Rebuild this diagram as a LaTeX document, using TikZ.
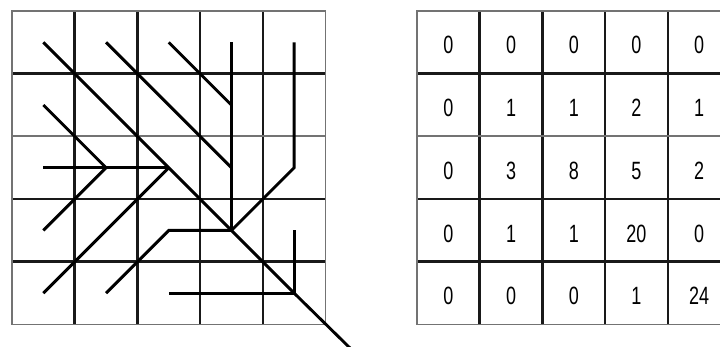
\documentclass[tikz,border=0pt]{standalone}
\usepackage{fontspec}
\newfontfamily\digitfont[FakeStretch=0.72]{Liberation Sans}
\tikzset{
  gline/.style={line width=2.6pt, black!90},
  gborder/.style={line width=1.8pt, black!55},
  flowline/.style={line width=2.9pt, black},
  kval/.style={font=\digitfont\fontsize{25}{25}\selectfont, inner sep=0pt},
}

\begin{document}
\begin{tikzpicture}[x=1pt, y=-1pt]
  \useasboundingbox (0,0) rectangle (720,347);
  % left grid: flow directions
  \foreach \k in {1,3,4} {
    \draw[gline] ({12+62.7*\k},11) -- ({12+62.7*\k},324.5);
    \draw[gline] (12,{11+62.7*\k}) -- (325.5,{11+62.7*\k});
  }
  \draw[gline] ({12+62.7*2},11) -- ({12+62.7*2},324.5);
  \draw[gborder] (12,{11+62.7*2}) -- (325.5,{11+62.7*2});
  \draw[gborder] (12,11) rectangle (325.5,324.5);
  \foreach \r in {1,...,5}
    \foreach \c in {1,...,5}
      \coordinate (c\r\c) at ({12+62.7*(\c-0.5)},{11+62.7*(\r-0.5)});
  \coordinate (outlet) at (352,350);
  \draw[flowline] (c11) -- (c22) -- (c33) -- (c44) -- (c55) -- (outlet);
  \draw[flowline] (c12) -- (c23) -- (c34) -- (c44);
  \draw[flowline] (c13) -- (c24);
  \draw[flowline] (c14) -- (c24) -- (c34);
  \draw[flowline] (c15) -- (c25) -- (c35) -- (c44);
  \draw[flowline] (c21) -- (c32);
  \draw[flowline] (c31) -- (c32) -- (c33);
  \draw[flowline] (c41) -- (c32);
  \draw[flowline] (c51) -- (c42) -- (c33);
  \draw[flowline] (c52) -- (c43) -- (c44);
  \draw[flowline] (c53) -- (c54) -- (c55);
  \draw[flowline] (c45) -- (c55);
  % right grid: flow accumulation
  \foreach \k in {1,3,4} {
    \draw[gline] ({417+62.7*\k},11) -- ({417+62.7*\k},324.5);
    \draw[gline] (417,{11+62.7*\k}) -- (730.5,{11+62.7*\k});
  }
  \draw[gline] ({417+62.7*2},11) -- ({417+62.7*2},324.5);
  \draw[gborder] (417,{11+62.7*2}) -- (730.5,{11+62.7*2});
  \draw[gborder] (417,11) rectangle (730.5,324.5);
  \foreach \row [count=\r] in {{0,0,0,0,0},{0,1,1,2,1},{0,3,8,5,2},{0,1,1,20,0},{0,0,0,1,24}}
    \foreach \v [count=\c] in \row
      \node[kval] (v\r\c) at ({417+62.7*(\c-0.5)},{14+62.7*(\r-0.5)}) {\v};
\end{tikzpicture}
\end{document}
